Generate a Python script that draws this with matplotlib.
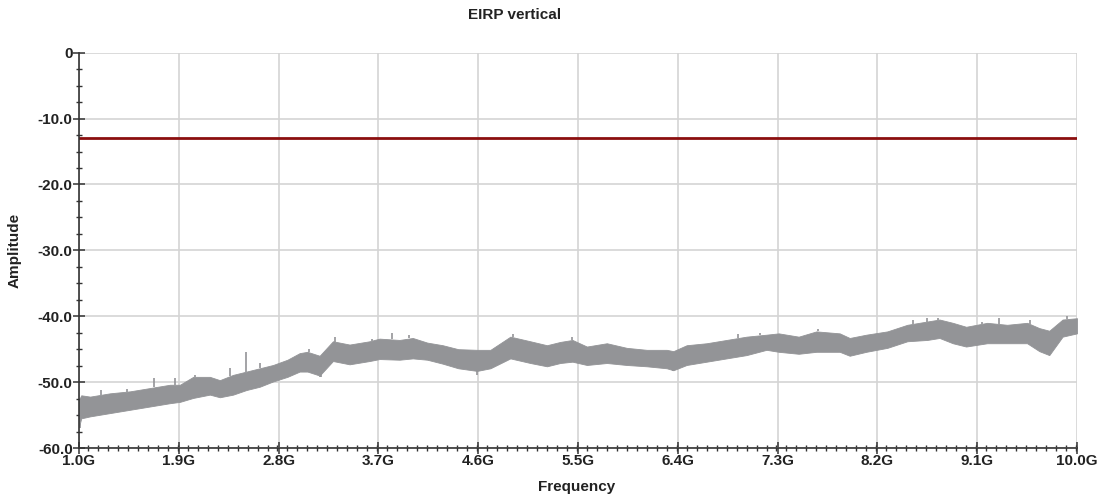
import numpy as np
import matplotlib
matplotlib.use("Agg")
import matplotlib.pyplot as plt
from matplotlib.ticker import MultipleLocator, FixedLocator

plt.rcParams['font.family'] = ['Liberation Sans', 'DejaVu Sans']

# band envelope (GHz, dB lower, dB upper)
freq = [1.00, 1.02, 1.10, 1.28, 1.46, 1.64, 1.82, 1.91, 2.03, 2.18, 2.27, 2.39,
        2.51, 2.63, 2.75, 2.88, 2.99, 3.06, 3.17, 3.29, 3.44, 3.62, 3.71, 3.89,
        4.01, 4.14, 4.28, 4.42, 4.59, 4.71, 4.89, 5.07, 5.22, 5.34, 5.45, 5.58,
        5.76, 5.94, 6.12, 6.30, 6.36, 6.48, 6.66, 6.84, 7.02, 7.20, 7.31, 7.49,
        7.65, 7.86, 7.95, 8.10, 8.29, 8.47, 8.65, 8.76, 8.88, 9.00, 9.19, 9.37,
        9.55, 9.66, 9.75, 9.87, 10.00]
low = [-56.8, -55.5, -55.2, -54.7, -54.2, -53.7, -53.2, -53.0, -52.4, -51.9, -52.3, -51.9,
       -51.2, -50.7, -49.9, -49.2, -48.4, -48.4, -49.0, -46.8, -47.3, -46.8, -46.5, -46.6,
       -46.4, -46.6, -47.2, -47.9, -48.3, -47.9, -46.4, -47.1, -47.6, -47.1, -46.9, -47.4,
       -47.1, -47.4, -47.6, -47.9, -48.2, -47.4, -46.9, -46.4, -45.9, -45.1, -45.4, -45.7,
       -45.4, -45.4, -46.0, -45.4, -44.8, -43.8, -43.6, -43.3, -44.1, -44.6, -44.1, -44.1,
       -44.1, -45.3, -45.9, -43.1, -42.6]
high = [-52.7, -52.0, -52.2, -51.7, -51.4, -50.9, -50.4, -50.4, -49.2, -49.2, -49.7, -48.9,
        -48.4, -47.9, -47.4, -46.6, -45.6, -45.4, -46.0, -43.8, -44.3, -43.8, -43.4, -43.6,
        -43.3, -44.0, -44.4, -45.0, -45.1, -45.1, -43.1, -43.8, -44.4, -43.9, -43.6, -44.6,
        -44.1, -44.8, -45.1, -45.1, -45.3, -44.4, -44.1, -43.6, -43.1, -42.8, -42.6, -43.1,
        -42.3, -42.6, -43.3, -42.8, -42.3, -41.3, -40.8, -40.5, -41.0, -41.6, -41.0, -41.3,
        -41.0, -41.8, -42.2, -40.5, -40.3]

# isolated peaks above the band
spike_f = [1.20, 1.43, 1.68, 1.87, 2.05, 2.36, 2.51, 2.63, 3.07, 3.31, 3.64, 3.82,
           3.98, 4.91, 5.45, 6.94, 7.14, 7.66, 8.52, 8.65, 8.75, 9.14, 9.30, 9.58, 9.91]
spike_db = [-51.2, -51.1, -49.4, -49.4, -48.9, -47.9, -45.4, -47.1, -45.0, -43.2, -43.5, -42.6,
            -42.8, -42.7, -43.1, -42.7, -42.6, -42.0, -40.5, -40.2, -40.2, -40.8, -40.3, -40.5, -40.0]
# dips below the band
dip_f = [1.01, 3.17, 3.18, 4.59, 6.36]
dip_db = [-56.9, -49.2, -49.2, -48.9, -48.3]

limit = -13.0
xticks = [1.0, 1.9, 2.8, 3.7, 4.6, 5.5, 6.4, 7.3, 8.2, 9.1, 10.0]
yticks = [0, -10, -20, -30, -40, -50, -60]

fig = plt.figure(figsize=(11.02, 4.97), dpi=100)
ax = fig.add_axes([79 / 1102, 1 - 448 / 497, 998 / 1102, (448 - 52.7) / 497])

trace_col = '#939497'
ax.fill_between(freq, low, high, color=trace_col, lw=0.6, edgecolor=trace_col, zorder=3)
spike_base = np.interp(spike_f, freq, high)
ax.vlines(spike_f, spike_base, spike_db, color=trace_col, lw=1.2, zorder=3)
dip_base = np.interp(dip_f, freq, low)
ax.vlines(dip_f, dip_db, dip_base, color=trace_col, lw=1.2, zorder=3)
ax.axhline(limit, color='#8b0f0f', lw=2, zorder=4)

ax.set_xlim(1.0, 10.0)
ax.set_ylim(-60, 0)
ax.xaxis.set_major_locator(FixedLocator(xticks))
ax.set_xticklabels([f"{t:.1f}G" for t in xticks])
ax.xaxis.set_minor_locator(MultipleLocator(0.09))
ax.yaxis.set_major_locator(FixedLocator(yticks))
ax.set_yticklabels(["0" if t == 0 else f"{t:.1f}" for t in yticks])
ax.yaxis.set_minor_locator(MultipleLocator(2.5))

ax.grid(True, which='major', color='#d4d4d4', lw=1.2, zorder=0)
ax.set_axisbelow(True)
for s in ['top', 'right']:
    ax.spines[s].set_visible(False)
for s in ['left', 'bottom']:
    ax.spines[s].set_color('#333333')
    ax.spines[s].set_linewidth(1.2)
    ax.spines[s].set_zorder(5)

ax.tick_params(which='major', direction='inout', length=9, width=1.1, color='#333333',
               labelsize=11, pad=0)
ax.tick_params(which='minor', direction='inout', length=5, width=1.0, color='#333333')
for lab in ax.get_xticklabels() + ax.get_yticklabels():
    lab.set_fontweight('bold')
    lab.set_color('#222222')

fig.text(515 / 1102, 1 - 15 / 497, "EIRP vertical", ha='center', va='center',
         fontsize=11, fontweight='bold', color='#222222')
fig.text(577 / 1102, 1 - 487 / 497, "Frequency", ha='center', va='center',
         fontsize=11, fontweight='bold', color='#222222')
fig.text(15 / 1102, 1 - 250 / 497, "Amplitude", ha='center', va='center', rotation=90,
         fontsize=11, fontweight='bold', color='#222222')

fig.savefig("out.png", dpi=100)
